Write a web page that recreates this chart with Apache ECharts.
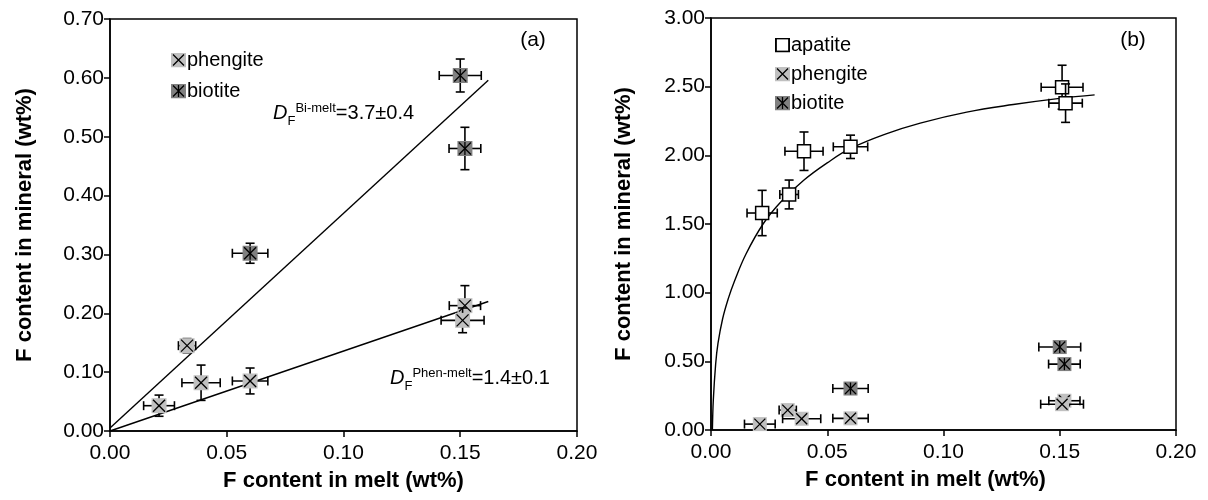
<!DOCTYPE html>
<html>
<head>
<meta charset="utf-8">
<script src="https://cdn.jsdelivr.net/npm/echarts@6/dist/echarts.min.js"></script>
<style>
  html, body { margin: 0; padding: 0; background: #fff; }
  #chart { width: 1208px; height: 500px; }
</style>
</head>
<body>
<div id="chart"></div>
<script>
// F content in melt (x) and mineral (y), wt%, with error half-widths
const phenMelt = [ 0.021, 0.033, 0.039, 0.060, 0.152, 0.151 ];
const phenMineral = [ 0.043, 0.145, 0.082, 0.085, 0.213, 0.188 ];
const phenMeltErr = [ 0.0066, 0.0037, 0.0082, 0.0076, 0.0067, 0.0092 ];
const phenMineralErr = [ 0.018, 0.012, 0.030, 0.022, 0.034, 0.021 ];

const bioMelt = [ 0.060, 0.150, 0.152 ];
const bioMineral = [ 0.302, 0.604, 0.480 ];
const bioMeltErr = [ 0.0076, 0.009, 0.0068 ];
const bioMineralErr = [ 0.017, 0.028, 0.036 ];

const apaMelt = [ 0.022, 0.0336, 0.040, 0.060, 0.151, 0.1525 ];
const apaMineral = [ 1.58, 1.715, 2.03, 2.062, 2.496, 2.38 ];
const apaMeltErr = [ 0.0065, 0.004, 0.0082, 0.0074, 0.009, 0.0072 ];
const apaMineralErr = [ 0.165, 0.105, 0.14, 0.085, 0.16, 0.14 ];

// trend lines
const biFitMelt = [ 0, 0.162 ];
const biFitMineral = [ 0.005, 0.596 ];
const phenFitMelt = [ 0, 0.162 ];
const phenFitMineral = [ 0, 0.220 ];
const apaCurveMelt = [ 0.0006, 0.001, 0.002, 0.003, 0.005, 0.0075, 0.01, 0.015, 0.0224, 0.03,
	0.04, 0.05, 0.06, 0.075, 0.09, 0.11, 0.13, 0.15, 0.165 ];
const apaCurveMineral = [ 0, 0.22, 0.48, 0.63, 0.81, 0.96, 1.08, 1.28, 1.50, 1.66,
	1.82, 1.945, 2.05, 2.155, 2.235, 2.315, 2.37, 2.415, 2.44 ];

const FONT = '"Liberation Sans", Arial, Helvetica, sans-serif';
const PHEN_FILL = '#c0c0c0';
const BIO_FILL = '#808080';

const zip = ( xs, ys, ex, ey ) => xs.map( ( x, i ) => ex ? [ x, ys[ i ], ex[ i ], ey[ i ] ] : [ x, ys[ i ] ] );

function svgIcon( body, size ) {
	const svg = `<svg xmlns="http://www.w3.org/2000/svg" width="${ size }" height="${ size }">${ body }</svg>`;
	return 'image://data:image/svg+xml;charset=utf-8,' + encodeURIComponent( svg );
}

const icons = {
	phengite: svgIcon( `<rect width="15" height="15" fill="${ PHEN_FILL }"/><path d="M2 2L13 13M13 2L2 13" stroke="#000" stroke-width="1.3"/>`, 15 ),
	biotite: svgIcon( `<rect width="15" height="15" fill="${ BIO_FILL }"/><path d="M2 2L13 13M13 2L2 13M7.5 1.5V13.5" stroke="#000" stroke-width="1.3"/>`, 15 ),
	apatite: svgIcon( '<rect x="0.75" y="0.75" width="10.5" height="10.5" fill="#fff" stroke="#000" stroke-width="1.5"/>', 12 )
};

// draws error bars, then the square marker and its cross on top
function markerRenderer( kind, size ) {
	return function ( params, api ) {
		const x = api.value( 0 );
		const y = api.value( 1 );
		const c = api.coord( [ x, y ] );
		const l = api.coord( [ x - api.value( 2 ), y ] );
		const r = api.coord( [ x + api.value( 2 ), y ] );
		const t = api.coord( [ x, y + api.value( 3 ) ] );
		const b = api.coord( [ x, y - api.value( 3 ) ] );
		const cap = 4.5;
		const bar = { stroke: '#000', lineWidth: 1.6 };
		const line = ( x1, y1, x2, y2, style ) => ( { type: 'line', shape: { x1, y1, x2, y2 }, style: style || bar } );
		const children = [
			line( l[ 0 ], c[ 1 ], r[ 0 ], c[ 1 ] ),
			line( l[ 0 ], c[ 1 ] - cap, l[ 0 ], c[ 1 ] + cap ),
			line( r[ 0 ], c[ 1 ] - cap, r[ 0 ], c[ 1 ] + cap ),
			line( c[ 0 ], t[ 1 ], c[ 0 ], b[ 1 ] ),
			line( c[ 0 ] - cap, t[ 1 ], c[ 0 ] + cap, t[ 1 ] ),
			line( c[ 0 ] - cap, b[ 1 ], c[ 0 ] + cap, b[ 1 ] )
		];
		const h = size / 2;
		if ( kind === 'apatite' ) {
			children.push( {
				type: 'rect',
				shape: { x: c[ 0 ] - h, y: c[ 1 ] - h, width: size, height: size },
				style: { fill: '#fff', stroke: '#000', lineWidth: 1.5 }
			} );
		} else {
			children.push( {
				type: 'rect',
				shape: { x: c[ 0 ] - h, y: c[ 1 ] - h, width: size, height: size },
				style: { fill: kind === 'biotite' ? BIO_FILL : PHEN_FILL }
			} );
			const k = h - 1.5;
			const thin = { stroke: '#000', lineWidth: 1.3 };
			children.push( line( c[ 0 ] - k, c[ 1 ] - k, c[ 0 ] + k, c[ 1 ] + k, thin ) );
			children.push( line( c[ 0 ] + k, c[ 1 ] - k, c[ 0 ] - k, c[ 1 ] + k, thin ) );
			if ( kind === 'biotite' ) {
				children.push( line( c[ 0 ], c[ 1 ] - k - 0.5, c[ 0 ], c[ 1 ] + k + 0.5, thin ) );
			}
		}
		return { type: 'group', children };
	};
}

function pointSeries( name, grid, data, size ) {
	return {
		name,
		type: 'custom',
		xAxisIndex: grid,
		yAxisIndex: grid,
		renderItem: markerRenderer( name, size ),
		data,
		z: 3,
		silent: true
	};
}

function lineSeries( grid, data, smooth ) {
	return {
		type: 'line',
		xAxisIndex: grid,
		yAxisIndex: grid,
		data,
		showSymbol: false,
		smooth: smooth ? 0.4 : false,
		lineStyle: { color: '#000', width: 1.4 },
		z: 2,
		silent: true
	};
}

function xAxis( grid, namePad ) {
	return {
		type: 'value',
		gridIndex: grid,
		min: 0,
		max: 0.2,
		interval: 0.05,
		name: 'F content in melt (wt%)',
		nameLocation: 'middle',
		nameGap: 39,
		nameTextStyle: { fontFamily: FONT, fontWeight: 'bold', fontSize: 22, color: '#000', padding: namePad },
		axisLine: { onZero: false, lineStyle: { color: '#000', width: 1.5 } },
		axisTick: { length: 6, lineStyle: { color: '#000', width: 1.5 } },
		axisLabel: { fontFamily: FONT, fontSize: 21, color: '#000', margin: 12, formatter: ( v ) => v.toFixed( 2 ) },
		splitLine: { show: false }
	};
}

function yAxis( grid, max, interval, gap ) {
	return {
		type: 'value',
		gridIndex: grid,
		min: 0,
		max,
		interval,
		name: 'F content in mineral (wt%)',
		nameLocation: 'middle',
		nameGap: gap,
		nameTextStyle: { fontFamily: FONT, fontWeight: 'bold', fontSize: 22, color: '#000' },
		axisLine: { onZero: false, lineStyle: { color: '#000', width: 1.5 } },
		axisTick: { length: 6, lineStyle: { color: '#000', width: 1.5 } },
		axisLabel: { fontFamily: FONT, fontSize: 21, color: '#000', margin: 6, formatter: ( v ) => v.toFixed( 2 ) },
		splitLine: { show: false }
	};
}

// D_F^{sup}=value, built from pieces placed side by side
const measureCtx = document.createElement( 'canvas' ).getContext( '2d' );
function partitionLabel( x, baseline, sup, value ) {
	const parts = [
		{ text: 'D', size: 20, style: 'italic', dy: 0 },
		{ text: 'F', size: 13, style: 'normal', dy: 5 },
		{ text: sup, size: 13, style: 'normal', dy: -8 },
		{ text: value, size: 20, style: 'normal', dy: 0 }
	];
	let cx = x;
	return parts.map( ( p ) => {
		measureCtx.font = `${ p.style } ${ p.size }px ${ FONT }`;
		const el = {
			type: 'text',
			x: cx,
			y: baseline + p.dy,
			style: {
				text: p.text,
				fontFamily: FONT,
				fontSize: p.size,
				fontStyle: p.style,
				fill: '#000',
				verticalAlign: 'bottom'
			}
		};
		cx += measureCtx.measureText( p.text ).width;
		return el;
	} );
}

const chart = echarts.init( document.getElementById( 'chart' ), null, { renderer: 'canvas' } );

chart.setOption( {
	backgroundColor: '#fff',
	animation: false,
	grid: [
		{ left: 110, right: 631, top: 19, bottom: 69, show: true, borderColor: '#000', borderWidth: 1.5 },
		{ left: 711, right: 32, top: 18, bottom: 70, show: true, borderColor: '#000', borderWidth: 1.5 }
	],
	xAxis: [ xAxis( 0, [ 0, 0, 0, 0 ] ), xAxis( 1, [ 0, 36, 0, 0 ] ) ],
	yAxis: [ yAxis( 0, 0.7, 0.1, 74 ), yAxis( 1, 3, 0.5, 76 ) ],
	legend: [
		{
			orient: 'vertical',
			left: 166,
			top: 45,
			itemWidth: 15,
			itemHeight: 15,
			itemGap: 11,
			selectedMode: false,
			textStyle: { fontFamily: FONT, fontSize: 20, color: '#000', padding: [ 0, 0, 0, -4 ], lineHeight: 20 },
			data: [
				{ name: 'phengite', icon: icons.phengite },
				{ name: 'biotite', icon: icons.biotite }
			]
		},
		{
			orient: 'vertical',
			left: 770,
			top: 30,
			itemWidth: 15,
			itemHeight: 15,
			itemGap: 9,
			selectedMode: false,
			textStyle: { fontFamily: FONT, fontSize: 20, color: '#000', padding: [ 0, 0, 0, -4 ], lineHeight: 20 },
			data: [
				{ name: 'apatite', icon: icons.apatite },
				{ name: 'phengite', icon: icons.phengite },
				{ name: 'biotite', icon: icons.biotite }
			]
		}
	],
	graphic: [
		{ type: 'text', x: 533, y: 40, style: { text: '(a)', fontFamily: FONT, fontSize: 21, fill: '#000', align: 'center', verticalAlign: 'middle' } },
		{ type: 'text', x: 1133, y: 40, style: { text: '(b)', fontFamily: FONT, fontSize: 21, fill: '#000', align: 'center', verticalAlign: 'middle' } },
		...partitionLabel( 273, 123, 'Bi-melt', '=3.7±0.4' ),
		...partitionLabel( 390, 388, 'Phen-melt', '=1.4±0.1' )
	],
	series: [
		lineSeries( 0, zip( biFitMelt, biFitMineral ) ),
		lineSeries( 0, zip( phenFitMelt, phenFitMineral ) ),
		pointSeries( 'phengite', 0, zip( phenMelt, phenMineral, phenMeltErr, phenMineralErr ), 15 ),
		pointSeries( 'biotite', 0, zip( bioMelt, bioMineral, bioMeltErr, bioMineralErr ), 15 ),
		lineSeries( 1, zip( apaCurveMelt, apaCurveMineral ), true ),
		pointSeries( 'apatite', 1, zip( apaMelt, apaMineral, apaMeltErr, apaMineralErr ), 13 ),
		pointSeries( 'phengite', 1, zip( phenMelt, phenMineral, phenMeltErr, phenMineralErr ), 14 ),
		pointSeries( 'biotite', 1, zip( bioMelt, bioMineral, bioMeltErr, bioMineralErr ), 14 )
	]
} );
</script>
</body>
</html>
